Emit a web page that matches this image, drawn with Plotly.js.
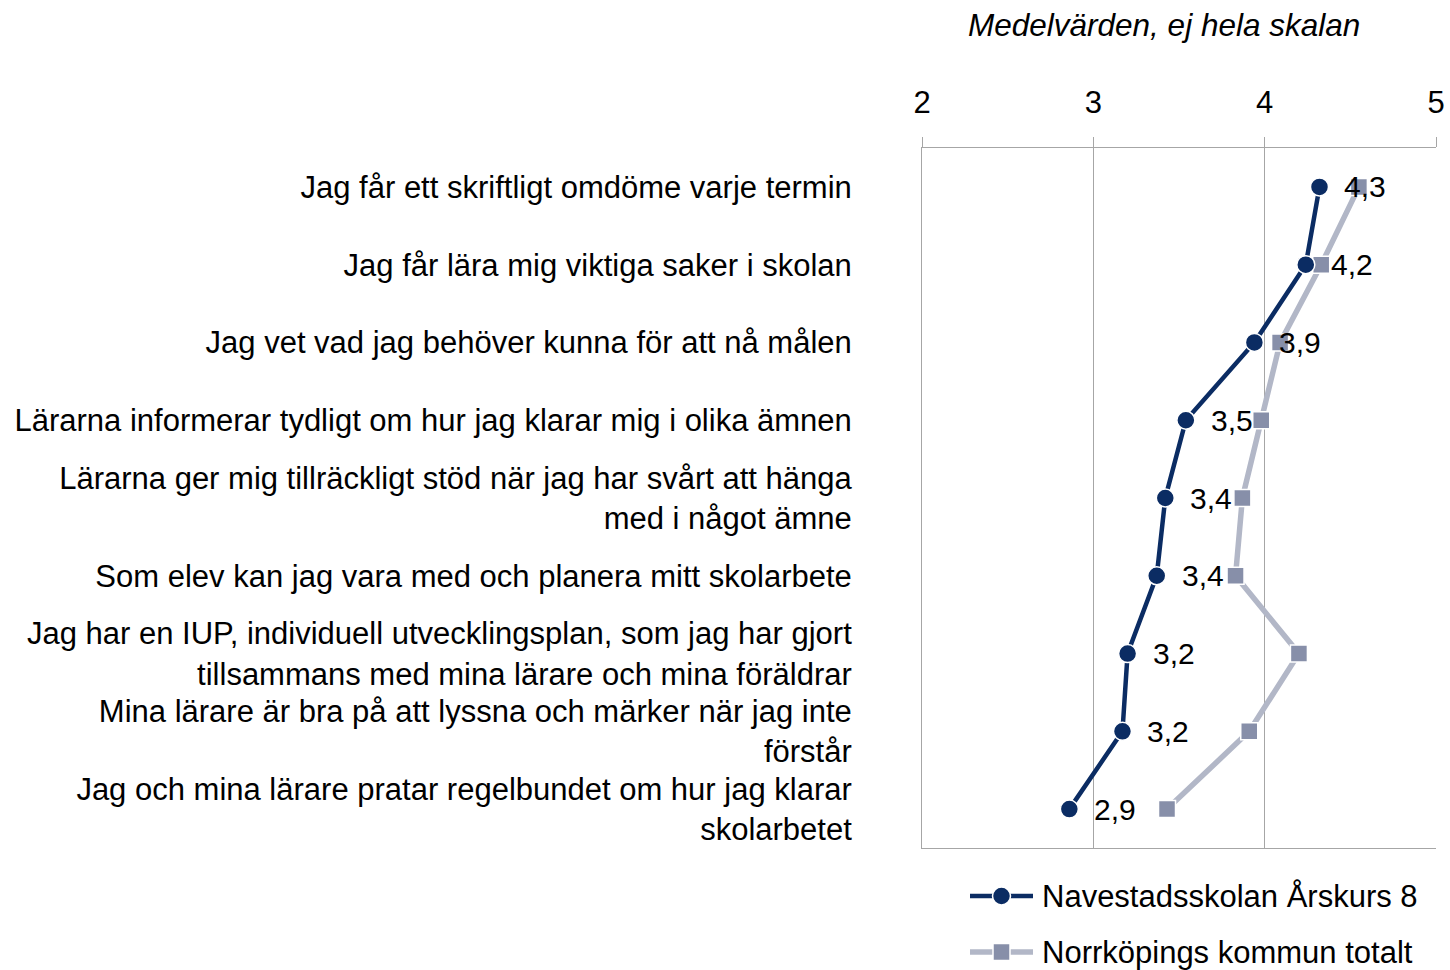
<!DOCTYPE html>
<html>
<head>
<meta charset="utf-8">
<script src="https://cdn.plot.ly/plotly-3.0.1.min.js"></script>
<style>html,body{margin:0;padding:0;background:#fff;}</style>
</head>
<body>
<div id="chart" style="width:1450px;height:970px;"></div>
<script>
const categories = [
  "Jag får ett skriftligt omdöme varje termin",
  "Jag får lära mig viktiga saker i skolan",
  "Jag vet vad jag behöver kunna för att nå målen",
  "Lärarna informerar tydligt om hur jag klarar mig i olika ämnen",
  "Lärarna ger mig tillräckligt stöd när jag har svårt att hänga<br>med i något ämne",
  "Som elev kan jag vara med och planera mitt skolarbete",
  "Jag har en IUP, individuell utvecklingsplan, som jag har gjort<br>tillsammans med mina lärare och mina föräldrar",
  "Mina lärare är bra på att lyssna och märker när jag inte<br>förstår",
  "Jag och mina lärare pratar regelbundet om hur jag klarar<br>skolarbetet"
];
const navestad = [4.32, 4.24, 3.94, 3.54, 3.42, 3.37, 3.20, 3.17, 2.86];
const norrkoping = [4.55, 4.33, 4.09, 3.98, 3.87, 3.83, 4.20, 3.91, 3.43];
const xTicks = [2, 3, 4, 5];
const seriesNames = ["Navestadsskolan Årskurs 8", "Norrköpings kommun totalt"];
const chartTitle = "Medelvärden, ej hela skalan";

const FONT = "Liberation Sans, Arial, sans-serif";
const NAVY = "#0b2c63", GREY_LINE = "#b2b7c7", GREY_MARK = "#878fa9";

const W = 1450, H = 970, ml = 922, mr = 14, mt = 148, mb = 122;
const pw = W - ml - mr, ph = H - mt - mb;
const px = v => (v - ml) / pw;          // pixel -> paper x
const py = v => (H - mb - v) / ph;      // pixel -> paper y

const traces = [
  {
    x: norrkoping, y: categories, type: "scatter", mode: "lines+markers",
    name: seriesNames[1], showlegend: false,
    line: {color: GREY_LINE, width: 5.5},
    marker: {symbol: "square", size: 17, color: GREY_MARK, line: {color: "#ffffff", width: 1.5}}
  },
  {
    x: navestad, y: categories, type: "scatter", mode: "lines+markers",
    name: seriesNames[0], showlegend: false,
    line: {color: NAVY, width: 4.5},
    marker: {symbol: "circle", size: 18, color: NAVY, line: {color: "#ffffff", width: 1.5}}
  }
];

const annotations = navestad.map((v, i) => ({
  x: v, y: categories[i], xref: "x", yref: "y",
  text: v.toFixed(1).replace(".", ","),
  showarrow: false, xanchor: "left", yanchor: "middle", xshift: 23,
  font: {family: FONT, size: 30, color: "#000"}
}));
annotations.push({
  x: px(1164), y: py(25), xref: "paper", yref: "paper",
  text: "<i>" + chartTitle + "</i>", showarrow: false,
  xanchor: "center", yanchor: "middle",
  font: {family: FONT, size: 31.5, color: "#000"}
});

// custom legend (symbol line + marker + text)
const legendRows = [
  {y: 896, name: seriesNames[0], color: NAVY, lw: 4.5, mark: "circle", mcolor: NAVY},
  {y: 952, name: seriesNames[1], color: GREY_LINE, lw: 5.5, mark: "rect", mcolor: GREY_MARK}
];
const shapes = [];
legendRows.forEach(r => {
  shapes.push({type: "line", xref: "paper", yref: "paper",
    x0: px(970), x1: px(1033), y0: py(r.y), y1: py(r.y),
    line: {color: r.color, width: r.lw}});
  const s = r.mark === "circle" ? 9 : 8.5;
  shapes.push({type: r.mark, xref: "paper", yref: "paper",
    x0: px(1001.5 - s), x1: px(1001.5 + s), y0: py(r.y - s), y1: py(r.y + s),
    fillcolor: r.mcolor, line: {color: "#ffffff", width: 1.5}});
  annotations.push({x: px(1040), y: py(r.y), xref: "paper", yref: "paper",
    text: r.name, showarrow: false, xanchor: "left", yanchor: "middle",
    font: {family: FONT, size: 31, color: "#000"}});
});

const layout = {
  width: W, height: H,
  margin: {l: ml, r: mr, t: mt, b: mb, pad: 0, autoexpand: false},
  paper_bgcolor: "#fff", plot_bgcolor: "#fff",
  font: {family: FONT, size: 30, color: "#000"},
  showlegend: false,
  xaxis: {
    side: "top", range: [2, 5], tickvals: xTicks, ticktext: xTicks.map(String),
    showgrid: true, gridcolor: "#a6a6a6", gridwidth: 1,
    showline: true, linecolor: "#a6a6a6", linewidth: 1, mirror: true,
    ticks: "outside", ticklen: 10, tickcolor: "#a6a6a6",
    tickfont: {family: FONT, size: 31, color: "#000"},
    ticklabelstandoff: 12,
    zeroline: false, fixedrange: true
  },
  yaxis: {
    type: "category", range: [8.5, -0.5],
    showgrid: false, showline: true, linecolor: "#a6a6a6", linewidth: 1,
    ticks: "", tickfont: {family: FONT, size: 31, color: "#000"},
    ticklabelstandoff: 63,
    zeroline: false, fixedrange: true
  },
  shapes: shapes,
  annotations: annotations
};

Plotly.newPlot("chart", traces, layout, {displayModeBar: false, staticPlot: true});
</script>
</body>
</html>
